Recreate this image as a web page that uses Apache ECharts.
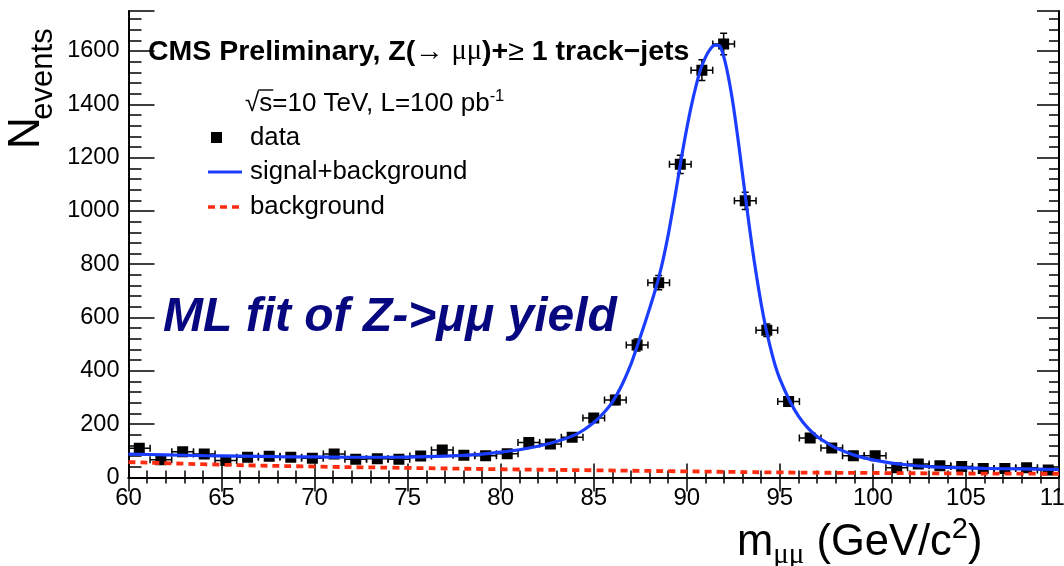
<!DOCTYPE html>
<html>
<head>
<meta charset="utf-8">
<script src="https://cdn.jsdelivr.net/npm/echarts@6/dist/echarts.min.js"></script>
<style>
  html, body { margin: 0; padding: 0; background: #ffffff; }
  #chart { width: 1064px; height: 566px; }
</style>
</head>
<body>
<div id="chart"></div>
<script>
// Dimuon invariant mass histogram: bin centres (GeV/c^2) and event counts
const massBins = [
  60.58, 61.74, 62.91, 64.07, 65.23, 66.40, 67.56, 68.72, 69.88, 71.05,
  72.21, 73.37, 74.53, 75.70, 76.86, 78.02, 79.19, 80.35, 81.51, 82.67,
  83.84, 85.00, 86.16, 87.33, 88.49, 89.65, 90.81, 91.98, 93.14, 94.30,
  95.47, 96.63, 97.79, 98.95, 100.12, 101.28, 102.44, 103.60, 104.77, 105.93,
  107.09, 108.26, 109.42
];
const eventCounts = [
  110, 67, 97, 88, 64, 76, 80, 76, 72, 88,
  68, 70, 68, 81, 103, 83, 82, 89, 131, 126,
  151, 223, 291, 497, 731, 1175, 1528, 1626, 1038, 552,
  285, 148, 111, 82, 82, 37, 51, 44, 41, 34,
  34, 37, 28
];
const binWidth = 1.163;

// Fitted model (signal + background), sampled along the mass axis
const fitMass = [
  60, 62, 64, 66, 68, 70, 72, 74, 76, 78, 79, 80, 81, 82, 83, 84, 84.5, 85, 85.5,
  86, 86.5, 87, 87.25, 87.5, 87.75, 88, 88.25, 88.5, 88.75, 89, 89.25, 89.5, 89.75,
  90, 90.25, 90.5, 90.75, 91, 91.25, 91.5, 91.75, 92, 92.25, 92.5, 92.75, 93, 93.25,
  93.5, 93.75, 94, 94.25, 94.5, 94.75, 95, 95.5, 96, 96.5, 97, 97.5, 98, 99, 100,
  101, 102, 103, 104, 106, 108, 110
];
const fitTotal = [
  88, 85, 82, 80, 78, 77, 76, 76, 78, 83, 88, 95, 104, 117, 135, 160, 180, 206, 240,
  283, 345, 425, 475, 527, 580, 634, 690, 752, 825, 910, 1008, 1110, 1215,
  1310, 1396, 1470, 1532, 1576, 1606, 1622, 1620, 1575, 1497, 1395, 1270, 1135, 1000,
  870, 755, 650, 560, 485, 420, 370, 292, 230, 186, 154, 131, 111, 84, 66,
  54, 46, 41, 38, 34, 32, 30
];
// Background component of the fit
const bkgMass = [60, 65, 70, 75, 80, 85, 90, 95, 100, 105, 110];
const fitBackground = [58, 48, 41, 36, 31, 27, 23, 19, 17, 15, 14];

// Axis ranges and tick spacing
const xRange = [60, 110];
const yRange = [0, 1750];
const xMajor = 5, yMajor = 200, yMinor = 40;

const SANS = '"Liberation Sans", Arial, Helvetica, sans-serif';
const SERIF = '"Liberation Serif", "DejaVu Serif", serif';
const BLUE = '#1a3dff';
const RED = '#ff2d10';
const NAVY = '#07077f';

const measureCtx = document.createElement('canvas').getContext('2d');
function textWidth(str, font) {
  measureCtx.font = font;
  return measureCtx.measureText(str).width;
}

// Lay out a run of text pieces left to right; y is the vertical centre of the main text
function textRun(pieces, x, y) {
  const out = [];
  let cx = x;
  pieces.forEach(p => {
    const font = (p.italic ? 'italic ' : '') + (p.bold ? 'bold ' : '') + p.size + 'px ' + (p.family || SANS);
    out.push({
      type: 'text',
      style: {
        text: p.text, x: cx, y: y + (p.dy || 0), font: font, fill: p.color || '#000',
        align: 'left', verticalAlign: 'middle', textAlign: 'left', textVerticalAlign: 'middle'
      },
      z: 100
    });
    cx += textWidth(p.text, font) + (p.gap || 0);
  });
  return { elements: out, end: cx };
}

const graphics = [];

// Header line
const cms = textRun([
  { text: 'CMS Preliminary, Z(', bold: true, size: 28.5 },
  { text: '\u2192 ', size: 28.5 },
  { text: '\u03bc\u03bc', size: 28.5, family: SERIF },
  { text: ')+', bold: true, size: 28.5 },
  { text: '\u2265', size: 28.5 },
  { text: ' 1 track\u2212jets', bold: true, size: 28.5 }
], 148, 52);
graphics.push(...cms.elements);

// Energy and luminosity line
const lumiSize = 26;
const sqrtFont = lumiSize + 'px ' + SANS;
const rootW = textWidth('\u221a', sqrtFont);
const sW = textWidth('s', sqrtFont);
const lumi = textRun([
  { text: '\u221a', size: lumiSize },
  { text: 's=10 TeV, L=100 pb', size: lumiSize },
  { text: '-1', size: 16.5, dy: -8 }
], 245, 104);
graphics.push(...lumi.elements);
graphics.push({
  type: 'line', z: 100,
  shape: { x1: 245 + rootW - 1, y1: 90, x2: 245 + rootW + sW + 1, y2: 90 },
  style: { stroke: '#000', lineWidth: 1.4 }
});

// Legend entries
const legendSize = 25.8;
graphics.push({ type: 'rect', z: 100, shape: { x: 211, y: 132, width: 11, height: 11 }, style: { fill: '#000' } });
graphics.push({ type: 'line', z: 100, shape: { x1: 208, y1: 172, x2: 242, y2: 172 }, style: { stroke: BLUE, lineWidth: 3.2 } });
graphics.push({ type: 'line', z: 100, shape: { x1: 208, y1: 207, x2: 242, y2: 207 }, style: { stroke: RED, lineWidth: 3.5, lineDash: [7, 5] } });
graphics.push(...textRun([{ text: 'data', size: legendSize }], 250, 138).elements);
graphics.push(...textRun([{ text: 'signal+background', size: legendSize }], 250, 172).elements);
graphics.push(...textRun([{ text: 'background', size: legendSize }], 250, 207).elements);

// Fit annotation
graphics.push(...textRun([{ text: 'ML fit of Z->\u03bc\u03bc yield', bold: true, italic: true, size: 48, color: NAVY }], 163, 318).elements);

// Axis titles
const xTitle = textRun([
  { text: 'm', size: 43.5 },
  { text: '\u03bc\u03bc', size: 29, family: SERIF, dy: 12 },
  { text: ' (GeV/c', size: 43.5 },
  { text: '2', size: 29, dy: -13 },
  { text: ')', size: 43.5 }
], 737, 543);
graphics.push(...xTitle.elements);
graphics.push({
  type: 'text', x: 27, y: 133, rotation: Math.PI / 2, z: 100,
  style: { text: 'N', x: 0, y: 0, font: '44px ' + SANS, fill: '#000', align: 'center', verticalAlign: 'middle', textAlign: 'center', textVerticalAlign: 'middle' }
});
graphics.push({
  type: 'text', x: 43, y: 74, rotation: Math.PI / 2, z: 100,
  style: { text: 'events', x: 0, y: 0, font: '31px ' + SANS, fill: '#000', align: 'center', verticalAlign: 'middle', textAlign: 'center', textVerticalAlign: 'middle' }
});

const axisLineStyle = { show: true, lineStyle: { color: '#000', width: 2 } };
function tickStyle(len) { return { show: true, inside: true, length: len, lineStyle: { color: '#000', width: 1.5 } }; }

const chart = echarts.init(document.getElementById('chart'), null, { renderer: 'canvas' });
chart.setOption({
  animation: false,
  backgroundColor: '#ffffff',
  grid: { left: 128.5, right: 5, top: 11, bottom: 88.5, containLabel: false, outerBoundsMode: 'none' },
  xAxis: [
    {
      type: 'value', position: 'bottom', min: xRange[0], max: xRange[1], interval: xMajor,
      axisLine: axisLineStyle, axisTick: tickStyle(14),
      minorTick: { show: true, splitNumber: 5, length: 7, lineStyle: { color: '#000', width: 1.5 } },
      splitLine: { show: false }, minorSplitLine: { show: false },
      axisLabel: { color: '#000', fontSize: 24, fontFamily: SANS, margin: 9 }
    },
    {
      type: 'value', position: 'top', min: xRange[0], max: xRange[1], interval: xMajor,
      axisLine: axisLineStyle, axisTick: tickStyle(14),
      minorTick: { show: true, splitNumber: 5, length: 6, lineStyle: { color: '#000', width: 1.5 } },
      splitLine: { show: false }, axisLabel: { show: false }
    }
  ],
  yAxis: [
    {
      type: 'value', position: 'left', min: yRange[0], max: yRange[1], interval: yMinor,
      axisLine: axisLineStyle, axisTick: tickStyle(13), splitLine: { show: false },
      axisLabel: {
        color: '#000', fontSize: 23.5, fontFamily: SANS, margin: 9,
        formatter: v => (v % yMajor === 0 ? String(v) : '')
      }
    },
    {
      type: 'value', position: 'left', min: yRange[0], max: yRange[1], interval: yMajor,
      axisLine: { show: false }, axisTick: tickStyle(26), splitLine: { show: false }, axisLabel: { show: false }
    },
    {
      type: 'value', position: 'right', min: yRange[0], max: yRange[1], interval: yMinor,
      axisLine: axisLineStyle, axisTick: tickStyle(10), splitLine: { show: false }, axisLabel: { show: false }
    },
    {
      type: 'value', position: 'right', min: yRange[0], max: yRange[1], interval: yMajor,
      axisLine: { show: false }, axisTick: tickStyle(22), splitLine: { show: false }, axisLabel: { show: false }
    }
  ],
  series: [
    {
      name: 'data', type: 'custom', xAxisIndex: 0, yAxisIndex: 0, clip: true, z: 3,
      data: massBins.map((m, i) => [m, eventCounts[i], Math.sqrt(eventCounts[i])]),
      renderItem: function (params, api) {
        const x = api.value(0), y = api.value(1), e = api.value(2);
        const c = api.coord([x, y]);
        const l = api.coord([x - binWidth / 2, y]);
        const r = api.coord([x + binWidth / 2, y]);
        const t = api.coord([x, y + e]);
        const b = api.coord([x, Math.max(0, y - e)]);
        const cap = 3.5;
        const st = { stroke: '#000', lineWidth: 1.5 };
        return {
          type: 'group',
          children: [
            { type: 'line', shape: { x1: l[0], y1: c[1], x2: r[0], y2: c[1] }, style: st },
            { type: 'line', shape: { x1: l[0], y1: c[1] - cap, x2: l[0], y2: c[1] + cap }, style: st },
            { type: 'line', shape: { x1: r[0], y1: c[1] - cap, x2: r[0], y2: c[1] + cap }, style: st },
            { type: 'line', shape: { x1: c[0], y1: t[1], x2: c[0], y2: b[1] }, style: st },
            { type: 'line', shape: { x1: c[0] - cap, y1: t[1], x2: c[0] + cap, y2: t[1] }, style: st },
            { type: 'line', shape: { x1: c[0] - cap, y1: b[1], x2: c[0] + cap, y2: b[1] }, style: st },
            { type: 'rect', shape: { x: c[0] - 5.5, y: c[1] - 5.5, width: 11, height: 11 }, style: { fill: '#000' } }
          ]
        };
      }
    },
    {
      name: 'background', type: 'line', xAxisIndex: 0, yAxisIndex: 0, z: 4,
      data: bkgMass.map((m, i) => [m, fitBackground[i]]),
      smooth: true, showSymbol: false, symbol: 'none',
      lineStyle: { color: RED, width: 3.8, type: [7, 5] }
    },
    {
      name: 'signal+background', type: 'line', xAxisIndex: 0, yAxisIndex: 0, z: 5,
      data: fitMass.map((m, i) => [m, fitTotal[i]]),
      smooth: 0.3, showSymbol: false, symbol: 'none',
      lineStyle: { color: BLUE, width: 3.2 }
    }
  ],
  graphic: { elements: graphics }
});
</script>
</body>
</html>
